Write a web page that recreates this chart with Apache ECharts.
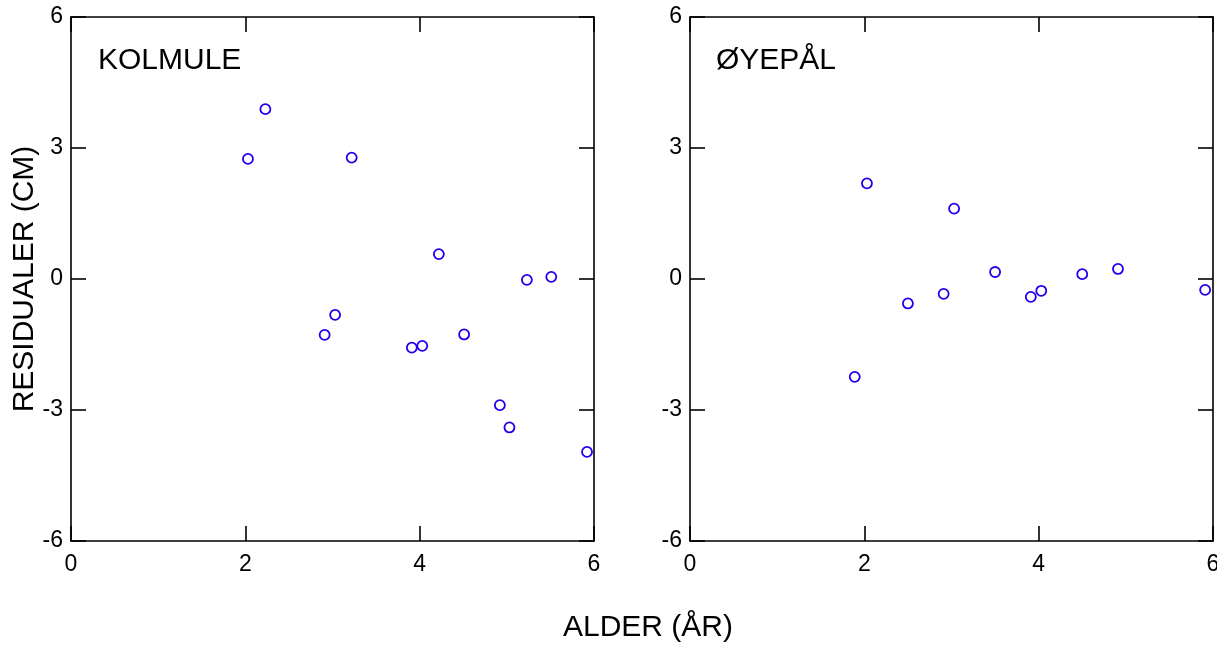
<!DOCTYPE html>
<html>
<head>
<meta charset="utf-8">
<script src="https://cdn.jsdelivr.net/npm/echarts@6/dist/echarts.min.js"></script>
<style>
html,body{margin:0;padding:0;background:#fff;overflow:hidden;}
#wrap{width:1217px;height:650px;overflow:hidden;}
#chart{width:1231px;height:650px;}
</style>
</head>
<body>
<div id="wrap"><div id="chart"></div></div>
<script>
// Data
const kolmuleAge = [2.03, 2.23, 3.22, 3.03, 2.91, 4.22, 3.91, 4.03, 4.51, 4.92, 5.03, 5.23, 5.51, 5.92];
const kolmuleRes = [2.75, 3.89, 2.78, -0.82, -1.28, 0.57, -1.57, -1.53, -1.27, -2.89, -3.40, -0.02, 0.05, -3.96];
const oyepalAge = [1.89, 2.03, 2.50, 2.91, 3.03, 3.50, 3.91, 4.03, 4.50, 4.91, 5.91];
const oyepalRes = [-2.24, 2.19, -0.56, -0.34, 1.61, 0.16, -0.41, -0.27, 0.11, 0.23, -0.25];
const panelNames = ['KOLMULE', 'ØYEPÅL'];
const xTitle = 'ALDER (ÅR)';
const yTitle = 'RESIDUALER (CM)';
const xMin = 0, xMax = 6, xStep = 2;
const yMin = -6, yMax = 6, yStep = 3;

const FONT = '"Liberation Sans", Arial, sans-serif';
const chart = echarts.init(document.getElementById('chart'), null, {renderer: 'canvas'});

const lineStyle = {color: '#000', width: 1.6};
const grids = [
  {left: 71, top: 17, width: 523, height: 524},
  {left: 690, top: 17, width: 523, height: 524}
];
const xAxes = [], yAxes = [];
grids.forEach((g, i) => {
  xAxes.push({type: 'value', gridIndex: i, min: xMin, max: xMax, interval: xStep, position: 'bottom',
    axisLine: {show: true, onZero: false, lineStyle}, axisTick: {inside: true, length: 15, lineStyle},
    axisLabel: {color: '#000', fontSize: 23, fontFamily: FONT, margin: 12}, splitLine: {show: false}});
  xAxes.push({type: 'value', gridIndex: i, min: xMin, max: xMax, interval: xStep, position: 'top',
    axisLine: {show: true, onZero: false, lineStyle}, axisTick: {inside: true, length: 15, lineStyle},
    axisLabel: {show: false}, splitLine: {show: false}});
  yAxes.push({type: 'value', gridIndex: i, min: yMin, max: yMax, interval: yStep, position: 'left',
    axisLine: {show: true, onZero: false, lineStyle}, axisTick: {inside: true, length: 15, lineStyle},
    axisLabel: {color: '#000', fontSize: 23, fontFamily: FONT, margin: 8}, splitLine: {show: false}});
  yAxes.push({type: 'value', gridIndex: i, min: yMin, max: yMax, interval: yStep, position: 'right',
    axisLine: {show: true, onZero: false, lineStyle}, axisTick: {inside: true, length: 15, lineStyle},
    axisLabel: {show: false}, splitLine: {show: false}});
});

function pairs(xs, ys){ return xs.map((x, i) => [x, ys[i]]); }
const symStyle = {color: '#fff', borderColor: '#2200ee', borderWidth: 1.8, opacity: 1};

chart.setOption({
  animation: false,
  backgroundColor: '#fff',
  grid: grids,
  xAxis: xAxes,
  yAxis: yAxes,
  series: [
    {type: 'scatter', xAxisIndex: 0, yAxisIndex: 0, data: pairs(kolmuleAge, kolmuleRes),
      symbol: 'circle', symbolSize: 10, itemStyle: symStyle},
    {type: 'scatter', xAxisIndex: 2, yAxisIndex: 2, data: pairs(oyepalAge, oyepalRes),
      symbol: 'circle', symbolSize: 10, itemStyle: symStyle}
  ],
  graphic: [
    {type: 'text', left: 98, top: 46, style: {text: panelNames[0], font: '30px ' + FONT, fill: '#000'}},
    {type: 'text', left: 716, top: 46, style: {text: panelNames[1], font: '30px ' + FONT, fill: '#000'}},
    {type: 'text', x: 648, y: 628, style: {text: xTitle, font: '30px ' + FONT, fill: '#000', align: 'center', verticalAlign: 'middle'}},
    {type: 'text', x: 25, y: 279, rotation: Math.PI / 2, style: {text: yTitle, font: '30px ' + FONT, fill: '#000', align: 'center', verticalAlign: 'middle'}}
  ]
});
</script>
</body>
</html>
